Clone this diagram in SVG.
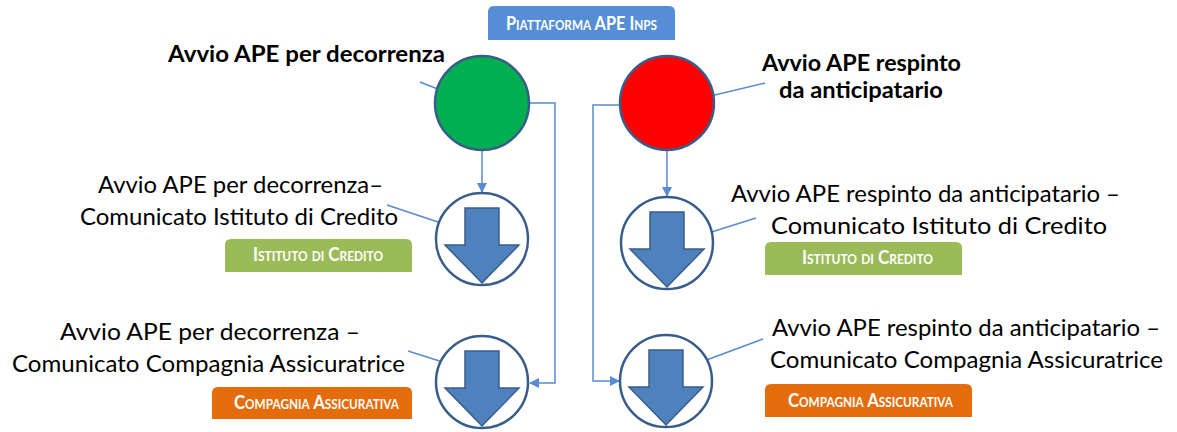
<svg xmlns="http://www.w3.org/2000/svg" width="1177" height="432" viewBox="0 0 1177 432">
<defs>
<marker id="ah" markerUnits="userSpaceOnUse" markerWidth="12" markerHeight="10" refX="9" refY="5" orient="auto">
<path d="M0,0 L10,5 L0,10 Z" fill="#5A8AD0"/>
</marker>
<g id="arrowSym">
<circle cx="0" cy="0" r="46" fill="#FFFFFF" stroke="#385D8A" stroke-width="2.5"/>
<path d="M-17,-31 H17 V6 H37 L0,44 L-37,6 H-17 Z" fill="#4F81BD" stroke="#385D8A" stroke-width="1.5" stroke-linejoin="miter"/>
</g>
</defs>
<style>
.lbl{font-family:"Lato","Liberation Sans",sans-serif;font-size:23px;fill:#000}
.b{font-weight:bold}
.tag{font-family:"Lato","Liberation Sans",sans-serif;font-weight:bold;fill:#FFFFFF;font-variant:small-caps;font-size:18.5px}
.btag{font-size:19.5px}
.ln{fill:none;stroke:#5A8AD0;stroke-width:1.5}
</style>
<rect width="1177" height="432" fill="#FFFFFF"/>

<g id="banner">
<path d="M488,40 V12 Q488,6 494,6 H669 Q675,6 675,12 V40 Z" fill="#558ED5"/>
<text class="tag btag" x="506" y="30" textLength="151" lengthAdjust="spacingAndGlyphs">Piattaforma APE Inps</text>
</g>

<g id="connectors">
<line class="ln" x1="420" y1="82" x2="473" y2="103"/>
<line class="ln" x1="677" y1="104" x2="765" y2="83"/>
<line class="ln" x1="387" y1="205" x2="447" y2="225"/>
<line class="ln" x1="408" y1="351" x2="452" y2="365"/>
<line class="ln" x1="702" y1="235" x2="756" y2="218"/>
<line class="ln" x1="693" y1="365" x2="763" y2="339"/>
<line class="ln" x1="482" y1="150" x2="482" y2="192" marker-end="url(#ah)"/>
<line class="ln" x1="667" y1="150" x2="667" y2="196" marker-end="url(#ah)"/>
<polyline class="ln" points="529,103 555,103 555,383 530,383" marker-end="url(#ah)"/>
<polyline class="ln" points="620,105 593,105 593,381 619,381" marker-end="url(#ah)"/>
</g>

<g id="start-green">
<circle cx="482" cy="103" r="47" fill="#00B050" stroke="#385D8A" stroke-width="2.5"/>
<text class="lbl b" x="168" y="62" textLength="277" lengthAdjust="spacingAndGlyphs">Avvio APE per decorrenza</text>
</g>

<g id="start-red">
<circle cx="667" cy="103" r="47" fill="#FF0000" stroke="#385D8A" stroke-width="2.5"/>
<text class="lbl b" x="762" y="71" textLength="199" lengthAdjust="spacingAndGlyphs">Avvio APE respinto</text>
<text class="lbl b" x="779" y="98" textLength="164" lengthAdjust="spacingAndGlyphs">da anticipatario</text>
</g>

<g id="left-credito">
<use href="#arrowSym" x="482" y="239"/>
<text class="lbl" x="98" y="193" textLength="285" lengthAdjust="spacingAndGlyphs">Avvio APE per decorrenza–</text>
<text class="lbl" x="80" y="225" textLength="318" lengthAdjust="spacingAndGlyphs">Comunicato Istituto di Credito</text>
<path d="M225,272 V245 Q225,239 231,239 H406 Q412,239 412,245 V272 Z" fill="#9BBB59"/>
<text class="tag" x="253" y="261" textLength="130" lengthAdjust="spacingAndGlyphs">Istituto di Credito</text>
</g>

<g id="left-compagnia">
<use href="#arrowSym" x="482" y="382"/>
<text class="lbl" x="60" y="340" textLength="300" lengthAdjust="spacingAndGlyphs">Avvio APE per decorrenza –</text>
<text class="lbl" x="12" y="372" textLength="393" lengthAdjust="spacingAndGlyphs">Comunicato Compagnia Assicuratrice</text>
<path d="M212,419 V393 Q212,387 218,387 H406 Q412,387 412,393 V419 Z" fill="#E46C0A"/>
<text class="tag" x="234" y="409" textLength="165" lengthAdjust="spacingAndGlyphs">Compagnia Assicurativa</text>
</g>

<g id="right-credito">
<use href="#arrowSym" x="667" y="243"/>
<text class="lbl" x="731" y="202" textLength="389" lengthAdjust="spacingAndGlyphs">Avvio APE respinto da anticipatario –</text>
<text class="lbl" x="771" y="234" textLength="336" lengthAdjust="spacingAndGlyphs">Comunicato Istituto di Credito</text>
<path d="M765,275 V248 Q765,242 771,242 H956 Q962,242 962,248 V275 Z" fill="#9BBB59"/>
<text class="tag" x="802" y="264" textLength="131" lengthAdjust="spacingAndGlyphs">Istituto di Credito</text>
</g>

<g id="right-compagnia">
<use href="#arrowSym" x="666" y="381"/>
<text class="lbl" x="772" y="336" textLength="388" lengthAdjust="spacingAndGlyphs">Avvio APE respinto da anticipatario –</text>
<text class="lbl" x="770" y="368" textLength="393" lengthAdjust="spacingAndGlyphs">Comunicato Compagnia Assicuratrice</text>
<path d="M765,417 V390 Q765,384 771,384 H966 Q972,384 972,390 V417 Z" fill="#E46C0A"/>
<text class="tag" x="788" y="407" textLength="165" lengthAdjust="spacingAndGlyphs">Compagnia Assicurativa</text>
</g>
</svg>
